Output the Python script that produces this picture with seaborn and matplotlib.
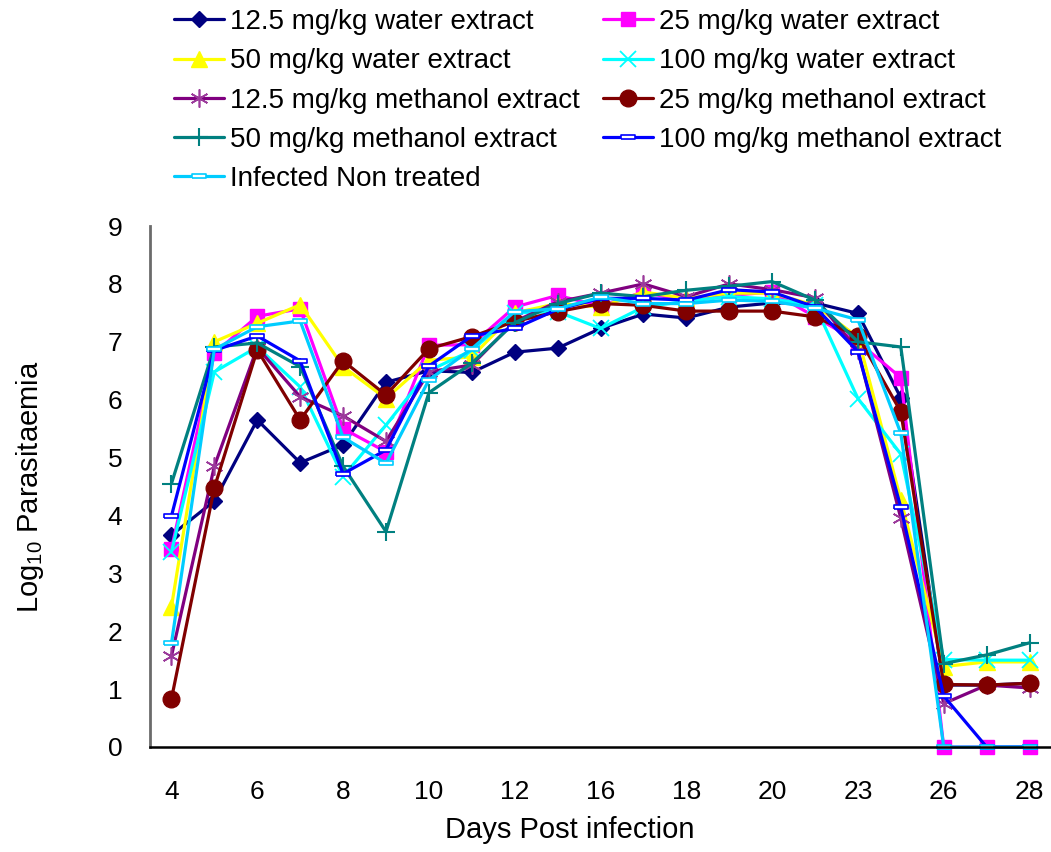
import numpy as np
import pandas as pd
import seaborn as sns
import matplotlib
matplotlib.use("Agg")
import matplotlib.pyplot as plt
from matplotlib import font_manager

# ---------------- data ----------------
days = ["4", "5", "6", "7", "8", "9", "10", "11", "12", "14", "16",
        "17", "18", "19", "20", "21", "23", "24", "26", "27", "28"]
tick_labels = ["4", "6", "8", "10", "12", "16", "18", "20", "23", "26", "28"]

water_12_5 = [3.66, 4.25, 5.65, 4.91, 5.22, 6.30, 6.50, 6.47, 6.82, 6.89, 7.23,
              7.48, 7.41, 7.60, 7.67, 7.67, 7.49, 6.03, 1.07, 1.07, 1.10]
water_25 = [3.42, 6.80, 7.44, 7.57, 5.50, 5.10, 6.94, 6.95, 7.60, 7.80, 7.62,
            7.86, 7.70, 7.80, 7.86, 7.43, 7.00, 6.38, 0.0, 0.0, 0.0]
water_50 = [2.42, 7.00, 7.32, 7.64, 6.57, 6.02, 6.68, 6.74, 7.50, 7.66, 7.60,
            7.86, 7.75, 7.84, 7.84, 7.63, 7.08, 4.27, 1.39, 1.47, 1.47]
water_100 = [3.37, 6.48, 6.91, 6.22, 4.67, 5.56, 6.50, 6.85, 7.50, 7.52, 7.23,
             7.60, 7.70, 7.78, 7.74, 7.63, 6.02, 5.06, 1.51, 1.50, 1.50]
meth_12_5 = [1.57, 4.85, 6.90, 6.05, 5.72, 5.28, 6.48, 6.60, 7.35, 7.69, 7.84,
             8.00, 7.78, 8.00, 7.90, 7.76, 6.85, 3.95, 0.75, 1.07, 1.02]
meth_25 = [0.83, 4.48, 6.86, 5.65, 6.67, 6.08, 6.88, 7.09, 7.35, 7.52, 7.66,
           7.63, 7.53, 7.53, 7.53, 7.43, 7.10, 5.79, 1.08, 1.07, 1.10]
meth_50 = [4.55, 6.91, 6.98, 6.57, 4.85, 3.72, 6.12, 6.63, 7.33, 7.66, 7.84,
           7.78, 7.89, 7.96, 8.04, 7.72, 7.00, 6.91, 1.44, 1.59, 1.80]
meth_100 = [3.99, 6.85, 7.10, 6.67, 4.72, 5.13, 6.58, 7.10, 7.23, 7.56, 7.75,
            7.75, 7.72, 7.90, 7.86, 7.60, 6.83, 4.14, 0.88, 0.0, 0.0]
infected = [1.79, 6.87, 7.26, 7.36, 5.35, 4.90, 6.34, 6.88, 7.52, 7.57, 7.77,
            7.66, 7.66, 7.72, 7.70, 7.58, 7.38, 5.42, 0.0, 0.0, 0.0]

series_names = ["12.5 mg/kg water extract", "25 mg/kg water extract",
                "50 mg/kg water extract", "100 mg/kg water extract",
                "12.5 mg/kg methanol extract", "25 mg/kg methanol extract",
                "50 mg/kg methanol extract", "100 mg/kg methanol extract",
                "Infected Non treated"]
series_values = [water_12_5, water_25, water_50, water_100,
                 meth_12_5, meth_25, meth_50, meth_100, infected]

# ---------------- style ----------------
sns.set_theme(style="white")
avail = {f.name for f in font_manager.fontManager.ttflist}
fam = "Liberation Sans Narrow" if "Liberation Sans Narrow" in avail else "Liberation Sans"
plt.rcParams["font.family"] = [fam, "DejaVu Sans"]
plt.rcParams["mathtext.fontset"] = "custom"
plt.rcParams["mathtext.rm"] = fam
plt.rcParams["mathtext.it"] = fam
plt.rcParams["mathtext.default"] = "rm"
for k in ["text.color", "axes.labelcolor", "xtick.color", "ytick.color"]:
    plt.rcParams[k] = "black"

dash = [(-1, -0.32), (1, -0.32), (1, 0.32), (-1, 0.32), (-1, -0.32)]
styles = [
    dict(color="#000080", marker="D", ms=8.5, mfc="#000080", mec="#000080"),
    dict(color="#FF00FF", marker="s", ms=10, mfc="#FF00FF", mec="#FF00FF"),
    dict(color="#FFFF00", marker="^", ms=11, mfc="#FFFF00", mec="#FFFF00"),
    dict(color="#00FFFF", marker="x", ms=11, mfc="#00FFFF", mec="#00FFFF", mew=1.3),
    dict(color="#800080", marker=(6, 2, 0), ms=13, mfc="#800080", mec="#9B3A9B", mew=1.2),
    dict(color="#800000", marker="o", ms=12, mfc="#800000", mec="#800000"),
    dict(color="#008080", marker="+", ms=13, mfc="#008080", mec="#008080", mew=1.5),
    dict(color="#0000FF", marker=dash, ms=10, mfc="white", mec="#0000FF", mew=1.2),
    dict(color="#00CCFF", marker=dash, ms=10, mfc="white", mec="#00CCFF", mew=1.2),
]

fig = plt.figure(figsize=(10.51, 8.52), dpi=100)
ax = fig.add_axes([150 / 1051, 1 - 747 / 852, 901 / 1051, (747 - 226) / 852])

x_pos = np.arange(len(days))
handles = []
for name, vals, st in zip(series_names, series_values, styles):
    df = pd.DataFrame({"pos": x_pos, "day": days, "value": vals})
    sns.lineplot(data=df, x="pos", y="value", ax=ax, color=st["color"],
                 linewidth=2.3, marker=st["marker"], markersize=st["ms"],
                 markerfacecolor=st["mfc"], markeredgecolor=st["mec"],
                 markeredgewidth=st.get("mew", 1.0), label=name,
                 clip_on=False, legend=False)
    handles.append(ax.get_lines()[-1])

ax.set_xlim(-0.5, len(days) - 0.5)
ax.set_ylim(0, 9)
ax.set_yticks(range(0, 10))
ax.set_xticks(x_pos[::2])
ax.set_xticklabels(tick_labels)
ax.tick_params(axis="both", length=0, labelsize=19, colors="black")
ax.tick_params(axis="y", pad=20)
ax.tick_params(axis="x", pad=24)

for s in ["top", "right"]:
    ax.spines[s].set_visible(False)
ax.spines["left"].set_color("#6b6b6b")
ax.spines["left"].set_linewidth(2)
ax.spines["bottom"].set_color("black")
ax.spines["bottom"].set_linewidth(1.8)

ax.set_xlabel("Days Post infection", fontsize=21)
ax.xaxis.set_label_coords((570 - 150) / 901, -(830 - 747) / 521)
ax.set_ylabel("Log$_{10}$ Parasitaemia", fontsize=21)
ax.yaxis.set_label_coords(-(150 - 30) / 901, 0.5)
ax.xaxis.label.set_va("center")
ax.yaxis.label.set_va("center")

# legend filled row by row (two columns), as in the reference
order = [0, 2, 4, 6, 8, 1, 3, 5, 7]
fig.legend(handles=[handles[i] for i in order],
           labels=[series_names[i] for i in order], loc="upper left",
           bbox_to_anchor=(165 / 1051, 1.0), ncol=2, frameon=False,
           fontsize=20, handlelength=1.8, handletextpad=0.22,
           columnspacing=0.85, labelspacing=0.48, borderaxespad=0.2,
           borderpad=0.12)

fig.savefig("out.png", dpi=100)
